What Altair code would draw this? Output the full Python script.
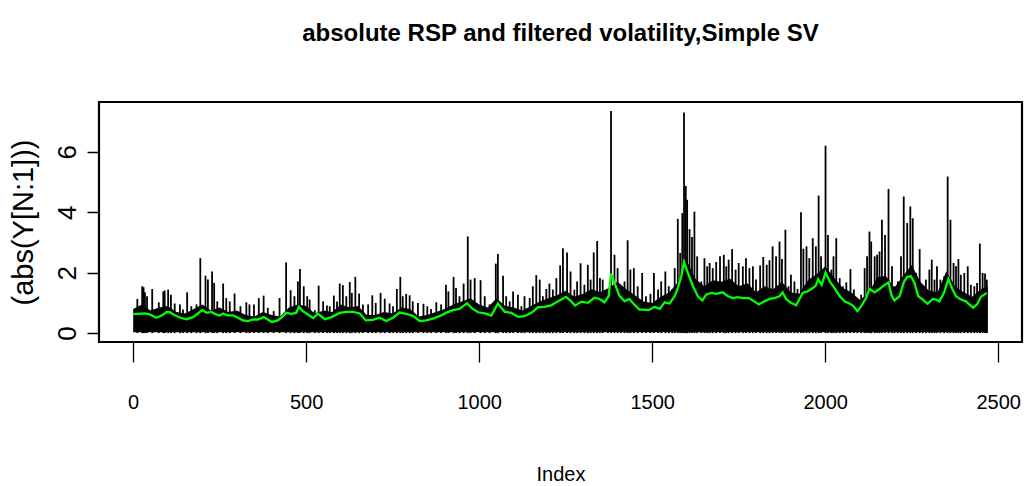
import altair as alt
import pandas as pd

title_text = "absolute RSP and filtered volatility,Simple SV"
x_title = "Index"
y_title = "(abs(Y[N:1]))"
x_ticks = [0, 500, 1000, 1500, 2000, 2500]
y_ticks = [0, 2, 4, 6]
x_domain = [-98.8, 2568.8]
y_domain = [-0.294, 7.646]

# spikes of |RSP| (index, value)
spike_idx = [12, 26, 30, 34, 40, 55, 74, 87, 91, 101, 109, 120, 135, 144, 156, 168, 183, 194, 209, 216,
             228, 234, 243, 260, 269, 279, 293, 310, 327, 336, 349, 363, 377, 389, 406, 423, 442, 455, 466, 476,
             482, 493, 503, 510, 525, 536, 549, 560, 568, 580, 589, 597, 606, 616, 626, 632, 642, 653, 664, 679,
             691, 701, 715, 727, 741, 751, 762, 772, 779, 789, 799, 808, 823, 839, 850, 861, 876, 890, 904, 911,
             926, 933, 943, 955, 967, 975, 987, 1004, 1016, 1030, 1048, 1054, 1069, 1078, 1088, 1098, 1112, 1122, 1131, 1146,
             1155, 1165, 1175, 1184, 1194, 1203, 1213, 1223, 1234, 1242, 1254, 1264, 1275, 1283, 1293, 1304, 1314, 1322, 1331, 1341,
             1349, 1357, 1372, 1381, 1391, 1400, 1410, 1420, 1429, 1437, 1447, 1458, 1471, 1482, 1495, 1505, 1517, 1526, 1538, 1548,
             1558, 1565, 1574, 1581, 1587, 1592, 1597, 1601, 1608, 1615, 1622, 1630, 1642, 1651, 1659, 1666, 1675, 1685, 1696, 1707,
             1714, 1721, 1731, 1741, 1750, 1762, 1771, 1781, 1791, 1800, 1812, 1821, 1831, 1839, 1848, 1858, 1868, 1875, 1885, 1894,
             1901, 1911, 1920, 1930, 1937, 1946, 1954, 1964, 1973, 1981, 1988, 2001, 2008, 2018, 2024, 2032, 2042, 2051, 2061, 2073,
             2083, 2093, 2104, 2114, 2121, 2128, 2133, 2143, 2150, 2157, 2164, 2173, 2183, 2193, 2200, 2210, 2219, 2227, 2237, 2246,
             2253, 2263, 2273, 2282, 2291, 2301, 2308, 2316, 2323, 2333, 2344, 2354, 2362, 2371, 2378, 2385, 2392, 2402, 2412, 2421,
             2431, 2439, 2447, 2455, 2462, 2467]
spike_val = [1.13, 1.55, 1.52, 1.35, 1.22, 1.46, 1.02, 1.38, 1.41, 1.44, 1.27, 0.98, 0.95, 0.78, 1.35, 0.89, 0.95, 2.48, 1.90, 1.77,
             2.04, 1.66, 1.05, 1.64, 1.16, 1.05, 1.31, 0.89, 1.02, 0.95, 0.95, 1.16, 1.24, 0.84, 0.73, 1.16, 2.34, 1.42, 1.22, 1.71,
             2.12, 1.55, 1.22, 1.11, 0.76, 1.57, 1.05, 0.91, 0.89, 1.24, 1.05, 1.64, 1.59, 1.22, 1.69, 1.33, 1.86, 1.31, 0.95, 0.95,
             1.25, 1.00, 1.33, 1.14, 0.98, 0.89, 1.46, 1.86, 1.22, 1.30, 1.25, 1.05, 1.00, 0.97, 0.89, 0.80, 1.02, 0.95, 1.60, 1.38,
             1.86, 1.49, 1.22, 1.64, 3.20, 1.77, 1.82, 1.75, 1.22, 0.95, 2.30, 2.62, 1.90, 1.22, 1.05, 1.38, 1.27, 0.89, 1.22, 1.16,
             1.55, 1.92, 1.77, 1.22, 1.46, 1.64, 1.44, 1.82, 2.24, 2.81, 2.67, 2.04, 1.44, 1.71, 2.31, 1.60, 2.26, 1.77, 2.67, 3.05,
             1.82, 1.77, 1.11, 7.35, 2.59, 2.15, 1.57, 1.71, 3.07, 2.10, 2.15, 1.55, 1.99, 1.22, 1.30, 1.99, 1.44, 1.71, 2.04, 1.55,
             1.46, 2.15, 3.78, 2.65, 3.97, 7.30, 4.87, 4.41, 3.44, 3.18, 4.02, 2.54, 1.71, 2.48, 2.21, 2.32, 2.15, 2.35, 2.54, 2.59,
             2.21, 2.43, 2.78, 2.10, 2.32, 2.21, 2.48, 2.15, 2.21, 1.77, 2.24, 2.52, 2.26, 2.41, 2.87, 2.54, 3.03, 2.45, 3.42, 1.55,
             1.93, 1.71, 1.46, 4.00, 2.79, 2.87, 2.48, 3.14, 2.87, 4.55, 2.54, 6.20, 3.25, 2.10, 2.54, 3.14, 1.82, 1.55, 1.68, 2.12,
             1.44, 1.11, 1.27, 2.15, 2.54, 3.36, 3.03, 2.54, 2.59, 2.70, 3.75, 3.25, 4.77, 2.21, 1.55, 1.71, 2.54, 4.52, 3.64, 4.19,
             3.80, 1.99, 2.78, 1.55, 1.77, 2.10, 2.43, 1.77, 2.21, 1.77, 1.88, 5.18, 3.75, 2.32, 2.21, 2.45, 1.93, 1.99, 2.21, 1.60,
             1.55, 1.66, 2.96, 1.99, 1.97, 1.77]

# top of the dense black band (read every 25 index steps)
core_idx = [0, 25, 50, 75, 100, 125, 150, 175, 200, 225, 250, 275, 300, 325, 350, 375, 400, 425, 450, 475,
            500, 525, 550, 575, 600, 625, 650, 675, 700, 725, 750, 775, 800, 825, 850, 875, 900, 925, 950, 975,
            1000, 1025, 1050, 1075, 1100, 1125, 1150, 1175, 1200, 1225, 1250, 1275, 1300, 1325, 1350, 1375, 1400, 1425, 1450, 1475,
            1500, 1525, 1550, 1575, 1600, 1625, 1650, 1675, 1700, 1725, 1750, 1775, 1800, 1825, 1850, 1875, 1900, 1925, 1950, 1975,
            2000, 2025, 2050, 2075, 2100, 2125, 2150, 2175, 2200, 2225, 2250, 2275, 2300, 2325, 2350, 2375, 2400, 2425, 2450, 2470]
core_val = [0.80, 0.95, 0.75, 0.85, 0.90, 0.70, 0.65, 0.80, 0.95, 0.75, 0.85, 0.70, 0.75, 0.60, 0.55, 0.70, 0.60, 0.55, 0.85, 0.95,
            0.90, 0.65, 0.75, 0.70, 0.95, 0.85, 0.90, 0.60, 0.60, 0.70, 0.65, 0.85, 0.80, 0.55, 0.60, 0.70, 0.80, 0.95, 1.05, 1.15,
            0.95, 0.85, 1.15, 0.90, 0.85, 0.75, 0.90, 1.05, 1.15, 1.25, 1.40, 1.20, 1.30, 1.45, 1.35, 1.50, 1.70, 1.45, 1.25, 1.05,
            1.00, 1.20, 1.35, 1.70, 2.40, 1.80, 1.55, 1.75, 1.70, 1.80, 1.55, 1.65, 1.35, 1.55, 1.45, 1.70, 1.35, 1.30, 1.75, 1.95,
            2.20, 1.85, 1.50, 1.35, 1.10, 1.30, 1.85, 1.90, 1.50, 1.90, 2.25, 1.70, 1.40, 1.35, 2.05, 1.55, 1.35, 1.20, 1.45, 1.55]

# filtered volatility (green)
green_idx = [0, 34, 48, 67, 82, 96, 106, 120, 139, 154, 173, 187, 199, 213, 226, 237, 250, 260, 272, 288,
             303, 317, 332, 346, 360, 378, 389, 401, 418, 433, 442, 457, 471, 479, 490, 501, 520, 534, 554, 573,
             597, 616, 635, 655, 672, 693, 712, 731, 751, 770, 789, 808, 828, 847, 866, 885, 904, 924, 943, 965,
             981, 997, 1016, 1035, 1054, 1074, 1093, 1112, 1131, 1151, 1170, 1189, 1208, 1227, 1251, 1266, 1277, 1295, 1314, 1333,
             1348, 1362, 1374, 1381, 1391, 1405, 1420, 1434, 1448, 1463, 1477, 1490, 1507, 1522, 1536, 1550, 1565, 1574, 1584, 1592,
             1603, 1618, 1632, 1645, 1656, 1671, 1685, 1704, 1719, 1733, 1747, 1762, 1779, 1795, 1808, 1824, 1839, 1853, 1868, 1877,
             1887, 1901, 1916, 1925, 1935, 1949, 1964, 1972, 1980, 1990, 2001, 2013, 2027, 2042, 2056, 2070, 2080, 2093, 2104, 2118,
             2128, 2143, 2157, 2169, 2183, 2191, 2200, 2215, 2227, 2237, 2248, 2258, 2269, 2282, 2296, 2311, 2320, 2330, 2344, 2356,
             2366, 2378, 2392, 2407, 2416, 2428, 2439, 2450, 2467]
green_val = [0.63, 0.65, 0.62, 0.51, 0.58, 0.69, 0.69, 0.59, 0.50, 0.46, 0.53, 0.65, 0.76, 0.67, 0.70, 0.63, 0.58, 0.65, 0.59, 0.59,
             0.51, 0.42, 0.40, 0.45, 0.45, 0.53, 0.45, 0.37, 0.42, 0.56, 0.67, 0.64, 0.67, 0.87, 0.73, 0.65, 0.50, 0.64, 0.46, 0.53,
             0.67, 0.70, 0.70, 0.65, 0.42, 0.44, 0.51, 0.40, 0.51, 0.68, 0.64, 0.57, 0.40, 0.42, 0.48, 0.56, 0.67, 0.76, 0.80, 0.99,
             0.80, 0.69, 0.65, 0.58, 0.98, 0.70, 0.67, 0.54, 0.56, 0.67, 0.86, 0.87, 0.92, 1.05, 1.20, 1.05, 0.91, 1.04, 1.00, 1.17,
             1.13, 1.02, 1.22, 1.97, 1.66, 1.24, 1.05, 1.13, 0.95, 0.78, 0.78, 0.76, 0.87, 0.80, 1.02, 0.98, 1.22, 1.49, 1.88, 2.35,
             1.99, 1.55, 1.22, 1.08, 1.27, 1.33, 1.30, 1.35, 1.22, 1.16, 1.19, 1.16, 1.16, 1.05, 0.95, 1.05, 1.13, 1.16, 1.22, 1.35,
             1.13, 1.00, 0.92, 1.11, 1.33, 1.38, 1.49, 1.56, 1.78, 1.60, 2.01, 1.71, 1.49, 1.22, 1.05, 0.98, 0.91, 0.73, 0.89, 1.16,
             1.46, 1.35, 1.46, 1.57, 1.68, 1.27, 1.08, 1.22, 1.68, 1.86, 1.88, 1.66, 1.22, 1.11, 0.97, 1.13, 1.11, 1.05, 1.35, 1.79,
             1.49, 1.22, 1.11, 1.05, 0.95, 0.84, 0.95, 1.20, 1.33]

FONT = "Liberation Sans, Arial, Helvetica, sans-serif"

spikes = pd.DataFrame({"idx": spike_idx, "val": spike_val})
core = pd.DataFrame({"idx": core_idx, "val": core_val})
green = pd.DataFrame({"idx": green_idx, "val": green_val})
ttl = pd.DataFrame({"t": [title_text]})

xs = alt.Scale(domain=x_domain, nice=False, zero=False)
ys = alt.Scale(domain=y_domain, nice=False, zero=False)

x_axis = alt.Axis(values=x_ticks, format="d", grid=False, domain=False,
                  tickSize=20, tickWidth=1.3, tickColor="black",
                  labelFont=FONT, labelFontSize=20, labelColor="black",
                  labelBaseline="alphabetic", labelPadding=46, labelFlush=False,
                  title=x_title, titleFont=FONT, titleFontSize=20, titleFontWeight="normal",
                  titleColor="black", titleX=461.5, titleY=138, titleBaseline="alphabetic",
                  titleAlign="center")
y_axis = alt.Axis(values=y_ticks, format="d", grid=False, domain=False,
                  tickSize=12, tickWidth=1.5, tickColor="black",
                  labelFont=FONT, labelFontSize=26, labelColor="black",
                  labelAngle=270, labelAlign="center", labelBaseline="alphabetic",
                  labelPadding=12, labelFlush=False,
                  title=y_title, titleFont=FONT, titleFontSize=29, titleFontWeight="normal",
                  titleColor="black", titleAngle=270, titleX=-67, titleY=120,
                  titleAlign="center", titleBaseline="alphabetic")

X = alt.X("idx:Q", scale=xs, axis=x_axis)
Y = alt.Y("val:Q", scale=ys, axis=y_axis)

core_layer = alt.Chart(core).mark_area(color="black", interpolate="linear").encode(
    x=X, y=Y, y2=alt.datum(0.03),
)

spike_layer = alt.Chart(spikes).mark_rule(color="black", strokeWidth=1.8).encode(
    x=X, y=Y, y2=alt.datum(0.0),
)

green_layer = alt.Chart(green).mark_line(color="#00ff00", strokeWidth=2.3).encode(
    x=X, y=Y,
)

title_layer = alt.Chart(ttl).mark_text(
    font=FONT, fontSize=24, fontWeight="bold", color="black",
    align="center", baseline="alphabetic"
).encode(x=alt.value(461.5), y=alt.value(-61), text="t:N")

chart = alt.layer(core_layer, spike_layer, green_layer, title_layer).properties(
    width=923, height=240,
    autosize=alt.AutoSizeParams(type="none"),
    padding={"left": 99, "top": 102, "right": 5, "bottom": 144},
    background="white",
).configure_view(stroke="black", strokeWidth=2.2)

chart.save("out.html", embed_options={"renderer": "svg", "actions": False})
